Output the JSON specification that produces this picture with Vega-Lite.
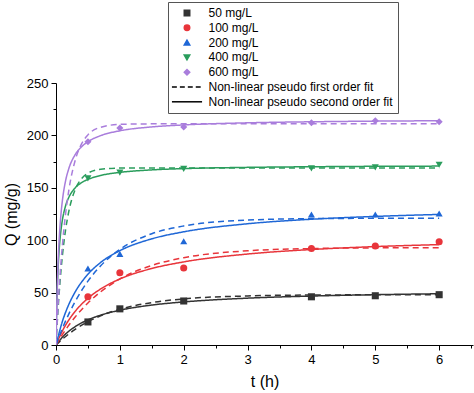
{
  "$schema": "https://vega.github.io/schema/vega-lite/v6.json",
  "width": 417,
  "height": 262,
  "autosize": {"type": "none"},
  "padding": {"left": 56, "top": 83, "right": 1, "bottom": 48},
  "background": "white",
  "config": {
    "view": {"stroke": null},
    "font": "Liberation Sans",
    "axis": {"labelFont": "Liberation Sans", "titleFont": "Liberation Sans", "domainColor": "black", "tickColor": "black", "labelColor": "black", "titleColor": "black", "grid": false}
  },
  "datasets": {
    "pts": [
      {"conc": "50 mg/L", "t": 0.5, "Q": 22}, {"conc": "50 mg/L", "t": 1, "Q": 34.5}, {"conc": "50 mg/L", "t": 2, "Q": 42}, {"conc": "50 mg/L", "t": 4, "Q": 46}, {"conc": "50 mg/L", "t": 5, "Q": 47}, {"conc": "50 mg/L", "t": 6, "Q": 48},
      {"conc": "100 mg/L", "t": 0.5, "Q": 46}, {"conc": "100 mg/L", "t": 1, "Q": 69}, {"conc": "100 mg/L", "t": 2, "Q": 73.5}, {"conc": "100 mg/L", "t": 4, "Q": 92}, {"conc": "100 mg/L", "t": 5, "Q": 94.5}, {"conc": "100 mg/L", "t": 6, "Q": 98.5},
      {"conc": "200 mg/L", "t": 0.5, "Q": 73}, {"conc": "200 mg/L", "t": 1, "Q": 87}, {"conc": "200 mg/L", "t": 2, "Q": 99}, {"conc": "200 mg/L", "t": 4, "Q": 124.5}, {"conc": "200 mg/L", "t": 5, "Q": 124.5}, {"conc": "200 mg/L", "t": 6, "Q": 125.5},
      {"conc": "400 mg/L", "t": 0.5, "Q": 159}, {"conc": "400 mg/L", "t": 1, "Q": 164.5}, {"conc": "400 mg/L", "t": 2, "Q": 168}, {"conc": "400 mg/L", "t": 4, "Q": 168.5}, {"conc": "400 mg/L", "t": 5, "Q": 169.5}, {"conc": "400 mg/L", "t": 6, "Q": 172},
      {"conc": "600 mg/L", "t": 0.5, "Q": 194}, {"conc": "600 mg/L", "t": 1, "Q": 207}, {"conc": "600 mg/L", "t": 2, "Q": 208}, {"conc": "600 mg/L", "t": 4, "Q": 212}, {"conc": "600 mg/L", "t": 5, "Q": 214}, {"conc": "600 mg/L", "t": 6, "Q": 213}
    ],
    "fit": [
      {"conc": "50 mg/L", "fit": "PFO", "t": 0, "Q": 0}, {"conc": "50 mg/L", "fit": "PFO", "t": 0.1, "Q": 5.6}, {"conc": "50 mg/L", "fit": "PFO", "t": 0.2, "Q": 10.5}, {"conc": "50 mg/L", "fit": "PFO", "t": 0.3, "Q": 14.9}, {"conc": "50 mg/L", "fit": "PFO", "t": 0.5, "Q": 22.2}, {"conc": "50 mg/L", "fit": "PFO", "t": 0.7, "Q": 27.9}, {"conc": "50 mg/L", "fit": "PFO", "t": 1, "Q": 34.1}, {"conc": "50 mg/L", "fit": "PFO", "t": 1.5, "Q": 40.5}, {"conc": "50 mg/L", "fit": "PFO", "t": 2, "Q": 44.0}, {"conc": "50 mg/L", "fit": "PFO", "t": 3, "Q": 46.8}, {"conc": "50 mg/L", "fit": "PFO", "t": 4, "Q": 47.7}, {"conc": "50 mg/L", "fit": "PFO", "t": 5, "Q": 47.9}, {"conc": "50 mg/L", "fit": "PFO", "t": 6, "Q": 48.0},
      {"conc": "50 mg/L", "fit": "PSO", "t": 0, "Q": 0}, {"conc": "50 mg/L", "fit": "PSO", "t": 0.1, "Q": 7.4}, {"conc": "50 mg/L", "fit": "PSO", "t": 0.2, "Q": 13.1}, {"conc": "50 mg/L", "fit": "PSO", "t": 0.3, "Q": 17.5}, {"conc": "50 mg/L", "fit": "PSO", "t": 0.5, "Q": 24.0}, {"conc": "50 mg/L", "fit": "PSO", "t": 0.7, "Q": 28.5}, {"conc": "50 mg/L", "fit": "PSO", "t": 1, "Q": 33.2}, {"conc": "50 mg/L", "fit": "PSO", "t": 1.5, "Q": 38.1}, {"conc": "50 mg/L", "fit": "PSO", "t": 2, "Q": 41.1}, {"conc": "50 mg/L", "fit": "PSO", "t": 3, "Q": 44.7}, {"conc": "50 mg/L", "fit": "PSO", "t": 4, "Q": 46.7}, {"conc": "50 mg/L", "fit": "PSO", "t": 5, "Q": 48.0}, {"conc": "50 mg/L", "fit": "PSO", "t": 6, "Q": 48.9},
      {"conc": "100 mg/L", "fit": "PFO", "t": 0, "Q": 0}, {"conc": "100 mg/L", "fit": "PFO", "t": 0.1, "Q": 9.9}, {"conc": "100 mg/L", "fit": "PFO", "t": 0.2, "Q": 18.8}, {"conc": "100 mg/L", "fit": "PFO", "t": 0.3, "Q": 26.7}, {"conc": "100 mg/L", "fit": "PFO", "t": 0.5, "Q": 40.1}, {"conc": "100 mg/L", "fit": "PFO", "t": 0.7, "Q": 50.8}, {"conc": "100 mg/L", "fit": "PFO", "t": 1, "Q": 63.0}, {"conc": "100 mg/L", "fit": "PFO", "t": 1.5, "Q": 75.9}, {"conc": "100 mg/L", "fit": "PFO", "t": 2, "Q": 83.3}, {"conc": "100 mg/L", "fit": "PFO", "t": 3, "Q": 89.9}, {"conc": "100 mg/L", "fit": "PFO", "t": 4, "Q": 92.0}, {"conc": "100 mg/L", "fit": "PFO", "t": 5, "Q": 92.7}, {"conc": "100 mg/L", "fit": "PFO", "t": 6, "Q": 92.9},
      {"conc": "100 mg/L", "fit": "PSO", "t": 0, "Q": 0}, {"conc": "100 mg/L", "fit": "PSO", "t": 0.1, "Q": 13.4}, {"conc": "100 mg/L", "fit": "PSO", "t": 0.2, "Q": 23.8}, {"conc": "100 mg/L", "fit": "PSO", "t": 0.3, "Q": 32.1}, {"conc": "100 mg/L", "fit": "PSO", "t": 0.5, "Q": 44.6}, {"conc": "100 mg/L", "fit": "PSO", "t": 0.7, "Q": 53.5}, {"conc": "100 mg/L", "fit": "PSO", "t": 1, "Q": 63.0}, {"conc": "100 mg/L", "fit": "PSO", "t": 1.5, "Q": 73.0}, {"conc": "100 mg/L", "fit": "PSO", "t": 2, "Q": 79.3}, {"conc": "100 mg/L", "fit": "PSO", "t": 3, "Q": 86.8}, {"conc": "100 mg/L", "fit": "PSO", "t": 4, "Q": 91.1}, {"conc": "100 mg/L", "fit": "PSO", "t": 5, "Q": 93.9}, {"conc": "100 mg/L", "fit": "PSO", "t": 6, "Q": 95.8},
      {"conc": "200 mg/L", "fit": "PFO", "t": 0, "Q": 0}, {"conc": "200 mg/L", "fit": "PFO", "t": 0.1, "Q": 15.8}, {"conc": "200 mg/L", "fit": "PFO", "t": 0.2, "Q": 29.5}, {"conc": "200 mg/L", "fit": "PFO", "t": 0.3, "Q": 41.5}, {"conc": "200 mg/L", "fit": "PFO", "t": 0.5, "Q": 60.9}, {"conc": "200 mg/L", "fit": "PFO", "t": 0.7, "Q": 75.6}, {"conc": "200 mg/L", "fit": "PFO", "t": 1, "Q": 91.2}, {"conc": "200 mg/L", "fit": "PFO", "t": 1.5, "Q": 106.2}, {"conc": "200 mg/L", "fit": "PFO", "t": 2, "Q": 113.6}, {"conc": "200 mg/L", "fit": "PFO", "t": 3, "Q": 119.2}, {"conc": "200 mg/L", "fit": "PFO", "t": 4, "Q": 120.6}, {"conc": "200 mg/L", "fit": "PFO", "t": 5, "Q": 120.9}, {"conc": "200 mg/L", "fit": "PFO", "t": 6, "Q": 121.0},
      {"conc": "200 mg/L", "fit": "PSO", "t": 0, "Q": 0}, {"conc": "200 mg/L", "fit": "PSO", "t": 0.1, "Q": 22.5}, {"conc": "200 mg/L", "fit": "PSO", "t": 0.2, "Q": 38.6}, {"conc": "200 mg/L", "fit": "PSO", "t": 0.3, "Q": 50.6}, {"conc": "200 mg/L", "fit": "PSO", "t": 0.5, "Q": 67.5}, {"conc": "200 mg/L", "fit": "PSO", "t": 0.7, "Q": 78.8}, {"conc": "200 mg/L", "fit": "PSO", "t": 1, "Q": 90.0}, {"conc": "200 mg/L", "fit": "PSO", "t": 1.5, "Q": 101.3}, {"conc": "200 mg/L", "fit": "PSO", "t": 2, "Q": 108.0}, {"conc": "200 mg/L", "fit": "PSO", "t": 3, "Q": 115.7}, {"conc": "200 mg/L", "fit": "PSO", "t": 4, "Q": 120.0}, {"conc": "200 mg/L", "fit": "PSO", "t": 5, "Q": 122.7}, {"conc": "200 mg/L", "fit": "PSO", "t": 6, "Q": 124.6},
      {"conc": "400 mg/L", "fit": "PFO", "t": 0, "Q": 0}, {"conc": "400 mg/L", "fit": "PFO", "t": 0.02, "Q": 22.1}, {"conc": "400 mg/L", "fit": "PFO", "t": 0.04, "Q": 41.3}, {"conc": "400 mg/L", "fit": "PFO", "t": 0.06, "Q": 58.0}, {"conc": "400 mg/L", "fit": "PFO", "t": 0.08, "Q": 72.5}, {"conc": "400 mg/L", "fit": "PFO", "t": 0.1, "Q": 85.1}, {"conc": "400 mg/L", "fit": "PFO", "t": 0.15, "Q": 109.9}, {"conc": "400 mg/L", "fit": "PFO", "t": 0.2, "Q": 127.3}, {"conc": "400 mg/L", "fit": "PFO", "t": 0.3, "Q": 148.3}, {"conc": "400 mg/L", "fit": "PFO", "t": 0.4, "Q": 158.7}, {"conc": "400 mg/L", "fit": "PFO", "t": 0.5, "Q": 163.9}, {"conc": "400 mg/L", "fit": "PFO", "t": 0.7, "Q": 167.7}, {"conc": "400 mg/L", "fit": "PFO", "t": 1, "Q": 168.8}, {"conc": "400 mg/L", "fit": "PFO", "t": 1.5, "Q": 169.0}, {"conc": "400 mg/L", "fit": "PFO", "t": 2, "Q": 169.0}, {"conc": "400 mg/L", "fit": "PFO", "t": 3, "Q": 169.0}, {"conc": "400 mg/L", "fit": "PFO", "t": 4, "Q": 169.0}, {"conc": "400 mg/L", "fit": "PFO", "t": 5, "Q": 169.0}, {"conc": "400 mg/L", "fit": "PFO", "t": 6, "Q": 169.0},
      {"conc": "400 mg/L", "fit": "PSO", "t": 0, "Q": 0}, {"conc": "400 mg/L", "fit": "PSO", "t": 0.01, "Q": 31.7}, {"conc": "400 mg/L", "fit": "PSO", "t": 0.02, "Q": 53.5}, {"conc": "400 mg/L", "fit": "PSO", "t": 0.04, "Q": 81.7}, {"conc": "400 mg/L", "fit": "PSO", "t": 0.06, "Q": 99.0}, {"conc": "400 mg/L", "fit": "PSO", "t": 0.08, "Q": 110.7}, {"conc": "400 mg/L", "fit": "PSO", "t": 0.1, "Q": 119.2}, {"conc": "400 mg/L", "fit": "PSO", "t": 0.15, "Q": 132.8}, {"conc": "400 mg/L", "fit": "PSO", "t": 0.2, "Q": 140.8}, {"conc": "400 mg/L", "fit": "PSO", "t": 0.3, "Q": 149.9}, {"conc": "400 mg/L", "fit": "PSO", "t": 0.4, "Q": 154.9}, {"conc": "400 mg/L", "fit": "PSO", "t": 0.5, "Q": 158.0}, {"conc": "400 mg/L", "fit": "PSO", "t": 0.7, "Q": 161.8}, {"conc": "400 mg/L", "fit": "PSO", "t": 1, "Q": 164.7}, {"conc": "400 mg/L", "fit": "PSO", "t": 1.5, "Q": 167.1}, {"conc": "400 mg/L", "fit": "PSO", "t": 2, "Q": 168.3}, {"conc": "400 mg/L", "fit": "PSO", "t": 3, "Q": 169.5}, {"conc": "400 mg/L", "fit": "PSO", "t": 4, "Q": 170.1}, {"conc": "400 mg/L", "fit": "PSO", "t": 5, "Q": 170.5}, {"conc": "400 mg/L", "fit": "PSO", "t": 6, "Q": 170.7},
      {"conc": "600 mg/L", "fit": "PFO", "t": 0, "Q": 0}, {"conc": "600 mg/L", "fit": "PFO", "t": 0.02, "Q": 23.9}, {"conc": "600 mg/L", "fit": "PFO", "t": 0.04, "Q": 45.0}, {"conc": "600 mg/L", "fit": "PFO", "t": 0.06, "Q": 63.8}, {"conc": "600 mg/L", "fit": "PFO", "t": 0.08, "Q": 80.4}, {"conc": "600 mg/L", "fit": "PFO", "t": 0.1, "Q": 95.2}, {"conc": "600 mg/L", "fit": "PFO", "t": 0.15, "Q": 125.2}, {"conc": "600 mg/L", "fit": "PFO", "t": 0.2, "Q": 147.4}, {"conc": "600 mg/L", "fit": "PFO", "t": 0.3, "Q": 176.1}, {"conc": "600 mg/L", "fit": "PFO", "t": 0.4, "Q": 191.9}, {"conc": "600 mg/L", "fit": "PFO", "t": 0.5, "Q": 200.5}, {"conc": "600 mg/L", "fit": "PFO", "t": 0.7, "Q": 207.8}, {"conc": "600 mg/L", "fit": "PFO", "t": 1, "Q": 210.5}, {"conc": "600 mg/L", "fit": "PFO", "t": 1.5, "Q": 211.0}, {"conc": "600 mg/L", "fit": "PFO", "t": 2, "Q": 211.0}, {"conc": "600 mg/L", "fit": "PFO", "t": 3, "Q": 211.0}, {"conc": "600 mg/L", "fit": "PFO", "t": 4, "Q": 211.0}, {"conc": "600 mg/L", "fit": "PFO", "t": 5, "Q": 211.0}, {"conc": "600 mg/L", "fit": "PFO", "t": 6, "Q": 211.0},
      {"conc": "600 mg/L", "fit": "PSO", "t": 0, "Q": 0}, {"conc": "600 mg/L", "fit": "PSO", "t": 0.01, "Q": 32.3}, {"conc": "600 mg/L", "fit": "PSO", "t": 0.02, "Q": 56.2}, {"conc": "600 mg/L", "fit": "PSO", "t": 0.04, "Q": 89.2}, {"conc": "600 mg/L", "fit": "PSO", "t": 0.06, "Q": 110.9}, {"conc": "600 mg/L", "fit": "PSO", "t": 0.08, "Q": 126.3}, {"conc": "600 mg/L", "fit": "PSO", "t": 0.1, "Q": 137.7}, {"conc": "600 mg/L", "fit": "PSO", "t": 0.15, "Q": 156.7}, {"conc": "600 mg/L", "fit": "PSO", "t": 0.2, "Q": 168.2}, {"conc": "600 mg/L", "fit": "PSO", "t": 0.3, "Q": 181.6}, {"conc": "600 mg/L", "fit": "PSO", "t": 0.4, "Q": 189.1}, {"conc": "600 mg/L", "fit": "PSO", "t": 0.5, "Q": 194.0}, {"conc": "600 mg/L", "fit": "PSO", "t": 0.7, "Q": 199.8}, {"conc": "600 mg/L", "fit": "PSO", "t": 1, "Q": 204.4}, {"conc": "600 mg/L", "fit": "PSO", "t": 1.5, "Q": 208.1}, {"conc": "600 mg/L", "fit": "PSO", "t": 2, "Q": 210.0}, {"conc": "600 mg/L", "fit": "PSO", "t": 3, "Q": 212.0}, {"conc": "600 mg/L", "fit": "PSO", "t": 4, "Q": 213.0}, {"conc": "600 mg/L", "fit": "PSO", "t": 5, "Q": 213.6}, {"conc": "600 mg/L", "fit": "PSO", "t": 6, "Q": 214.0}
    ]
  },
  "layer": [
    {
      "data": {"name": "fit"},
      "mark": {"type": "line", "interpolate": "monotone", "strokeWidth": 1.5, "clip": true},
      "encoding": {
        "x": {"field": "t", "type": "quantitative", "scale": {"domain": [0, 6.53], "nice": false, "zero": false},
          "axis": {"values": [0, 1, 2, 3, 4, 5, 6], "title": "t (h)", "titleFontSize": 16, "titleFontWeight": "normal", "titlePadding": 7, "labelFontSize": 13, "labelPadding": 3, "tickSize": 5, "labelFlush": false}},
        "y": {"field": "Q", "type": "quantitative", "scale": {"domain": [0, 250], "nice": false},
          "axis": {"values": [0, 50, 100, 150, 200, 250], "title": "Q (mg/g)", "titleFontSize": 16, "titleFontWeight": "normal", "titlePadding": 7, "labelFontSize": 13, "labelPadding": 3, "tickSize": 5, "labelFlush": false}},
        "color": {"field": "conc", "type": "nominal"},
        "strokeDash": {"field": "fit", "type": "nominal", "scale": {"domain": ["PFO", "PSO"], "range": [[6, 4], [1, 0]]}, "legend": null},
        "detail": {"field": "fit"}
      }
    },
    {
      "data": {"name": "pts"},
      "mark": {"type": "point", "filled": true, "size": 50, "opacity": 1},
      "encoding": {
        "x": {"field": "t", "type": "quantitative",
          "axis": {"orient": "bottom", "values": [0.5, 1.5, 2.5, 3.5, 4.5, 5.5, 6.5], "labels": false, "domain": false, "tickSize": 3, "title": null}},
        "y": {"field": "Q", "type": "quantitative",
          "axis": {"orient": "left", "values": [25, 75, 125, 175, 225], "labels": false, "domain": false, "tickSize": 3, "title": null}},
        "color": {"field": "conc", "type": "nominal",
          "scale": {"domain": ["50 mg/L", "100 mg/L", "200 mg/L", "400 mg/L", "600 mg/L", "Non-linear pseudo first order fit", "Non-linear pseudo second order fit"],
                    "range": ["#333333", "#e8353b", "#1f67d6", "#2a9d5c", "#a97ddc", "#000000", "#000000"]},
          "legend": {"orient": "none", "legendX": 112, "legendY": -81, "title": null, "labelFontSize": 12, "labelFont": "Liberation Sans", "labelColor": "black", "labelLimit": 300, "symbolSize": 30, "rowPadding": 2.8, "padding": 5, "symbolOffset": 8, "labelOffset": 15.5, "strokeColor": "#555555", "fillColor": "white",
            "encode": {"symbols": {"update": {"fill": {"scale": "color", "field": "value"}, "stroke": {"scale": "color", "field": "value"}, "strokeWidth": {"signal": "indexof(datum.value, 'Non-linear') === 0 ? 1.3 : 0"}, "shape": {"scale": "shape", "field": "value"}, "opacity": {"value": 1}}}}}},
        "shape": {"field": "conc", "type": "nominal",
          "scale": {"domain": ["50 mg/L", "100 mg/L", "200 mg/L", "400 mg/L", "600 mg/L", "Non-linear pseudo first order fit", "Non-linear pseudo second order fit"],
                    "range": ["square", "circle", "triangle-up", "triangle-down", "diamond", "M-5.5,0H-3.7M-2.6,0H-0.8M0.3,0H2.1M3.2,0H5", "M-5.5,0H5.5"]}}
      }
    }
  ],
  "resolve": {"axis": {"x": "independent", "y": "independent"}}
}
